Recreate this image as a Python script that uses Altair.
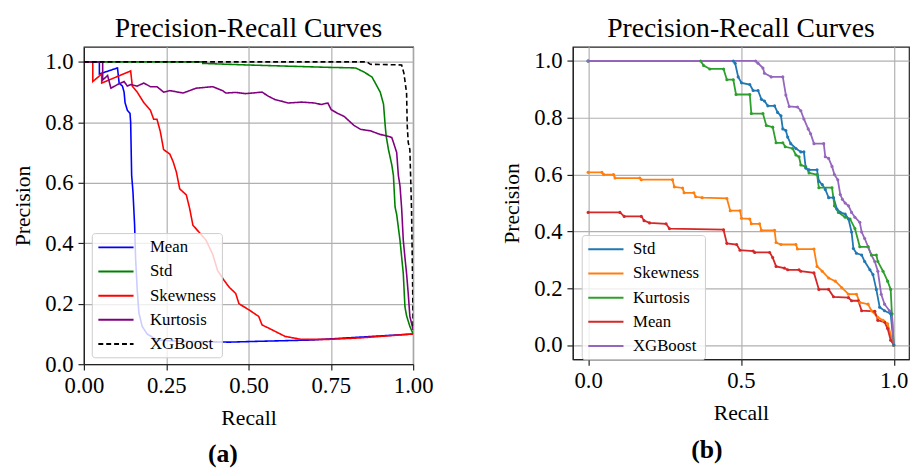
import altair as alt
import pandas as pd

# ---------------- Panel (a) data ----------------
a_mean_recall = [0.0, 0.047, 0.047, 0.102, 0.107, 0.117, 0.122, 0.125, 0.132, 0.140, 0.142, 0.145, 0.149, 0.154, 0.157, 0.162, 0.167, 0.177, 0.192, 0.222, 0.291, 0.441, 0.541, 0.691, 1.0]
a_mean_precision = [1.0, 1.0, 0.96, 0.98, 0.93, 0.92, 0.90, 0.865, 0.84, 0.83, 0.80, 0.625, 0.57, 0.46, 0.35, 0.245, 0.17, 0.125, 0.10, 0.08, 0.076, 0.073, 0.076, 0.08, 0.10]

a_std_recall = [0.0, 0.361, 0.361, 0.491, 0.741, 0.825, 0.850, 0.875, 0.890, 0.900, 0.910, 0.915, 0.918, 0.925, 0.935, 0.940, 0.945, 0.950, 0.960, 0.970, 0.975, 0.980, 0.990, 1.0]
a_std_precision = [1.0, 1.0, 0.995, 0.99, 0.982, 0.98, 0.967, 0.95, 0.92, 0.90, 0.86, 0.79, 0.755, 0.71, 0.66, 0.625, 0.52, 0.495, 0.41, 0.30, 0.19, 0.16, 0.125, 0.10]

a_skew_recall = [0.0, 0.027, 0.027, 0.054, 0.054, 0.142, 0.147, 0.162, 0.182, 0.202, 0.212, 0.222, 0.232, 0.242, 0.261, 0.271, 0.281, 0.291, 0.311, 0.321, 0.331, 0.351, 0.371, 0.391, 0.406, 0.426, 0.441, 0.461, 0.471, 0.501, 0.531, 0.541, 0.571, 0.611, 0.661, 0.741, 0.840, 1.0]
a_skew_precision = [1.0, 1.0, 0.935, 0.96, 0.93, 0.97, 0.92, 0.90, 0.865, 0.84, 0.81, 0.81, 0.77, 0.71, 0.695, 0.67, 0.635, 0.58, 0.56, 0.516, 0.46, 0.435, 0.41, 0.364, 0.31, 0.277, 0.255, 0.234, 0.20, 0.18, 0.158, 0.13, 0.114, 0.092, 0.082, 0.082, 0.087, 0.10]

a_kurt_recall = [0.0, 0.057, 0.057, 0.072, 0.082, 0.102, 0.122, 0.132, 0.142, 0.162, 0.182, 0.202, 0.222, 0.242, 0.261, 0.301, 0.341, 0.391, 0.421, 0.431, 0.461, 0.491, 0.541, 0.561, 0.581, 0.601, 0.621, 0.661, 0.701, 0.721, 0.741, 0.751, 0.770, 0.790, 0.800, 0.820, 0.840, 0.870, 0.900, 0.920, 0.935, 0.940, 0.950, 0.955, 0.960, 0.965, 0.970, 0.975, 0.980, 0.985, 0.990, 0.995, 1.0]
a_kurt_precision = [1.0, 1.0, 0.94, 0.955, 0.913, 0.925, 0.935, 0.92, 0.925, 0.92, 0.93, 0.918, 0.918, 0.90, 0.905, 0.897, 0.913, 0.918, 0.905, 0.897, 0.899, 0.895, 0.90, 0.886, 0.875, 0.87, 0.864, 0.867, 0.864, 0.859, 0.864, 0.842, 0.83, 0.82, 0.81, 0.79, 0.777, 0.772, 0.76, 0.755, 0.75, 0.734, 0.70, 0.625, 0.59, 0.516, 0.41, 0.353, 0.30, 0.234, 0.158, 0.136, 0.114]

a_xgb_recall = [0.0, 0.86, 0.87, 0.965, 0.972, 0.980, 0.982, 0.985, 0.990, 0.995, 0.998, 1.0]
a_xgb_precision = [1.0, 1.0, 0.992, 0.99, 0.962, 0.897, 0.79, 0.734, 0.71, 0.516, 0.30, 0.114]

# ---------------- Panel (b) data ----------------
b_std_recall = [0.0, 0.475, 0.481, 0.491, 0.502, 0.529, 0.540, 0.556, 0.567, 0.577, 0.588, 0.610, 0.620, 0.631, 0.637, 0.647, 0.653, 0.663, 0.680, 0.696, 0.706, 0.712, 0.723, 0.749, 0.755, 0.766, 0.776, 0.787, 0.803, 0.814, 0.825, 0.841, 0.852, 0.862, 0.868, 0.878, 0.895, 0.905, 0.922, 0.932, 0.943, 0.954, 0.970, 0.990, 1.0]
b_std_precision = [1.0, 1.0, 0.992, 0.944, 0.923, 0.917, 0.896, 0.896, 0.865, 0.859, 0.842, 0.842, 0.819, 0.807, 0.761, 0.755, 0.732, 0.709, 0.692, 0.68, 0.68, 0.623, 0.617, 0.617, 0.577, 0.565, 0.548, 0.519, 0.519, 0.479, 0.467, 0.461, 0.444, 0.398, 0.34, 0.323, 0.317, 0.294, 0.265, 0.248, 0.196, 0.133, 0.121, 0.11, 0.0]

b_skew_recall = [0.0, 0.045, 0.051, 0.083, 0.088, 0.169, 0.174, 0.276, 0.282, 0.309, 0.314, 0.346, 0.352, 0.373, 0.454, 0.465, 0.497, 0.502, 0.529, 0.534, 0.561, 0.567, 0.610, 0.615, 0.631, 0.680, 0.685, 0.739, 0.749, 0.766, 0.787, 0.809, 0.830, 0.852, 0.878, 0.889, 0.916, 0.927, 0.948, 0.965, 0.980, 1.0]
b_skew_precision = [0.608, 0.608, 0.60, 0.60, 0.588, 0.588, 0.582, 0.582, 0.557, 0.553, 0.536, 0.536, 0.522, 0.519, 0.516, 0.473, 0.473, 0.446, 0.444, 0.427, 0.427, 0.404, 0.404, 0.361, 0.354, 0.354, 0.338, 0.338, 0.277, 0.26, 0.236, 0.225, 0.202, 0.179, 0.179, 0.15, 0.144, 0.121, 0.098, 0.087, 0.075, 0.0]

b_kurt_recall = [0.0, 0.368, 0.378, 0.398, 0.443, 0.454, 0.475, 0.484, 0.529, 0.534, 0.572, 0.583, 0.604, 0.615, 0.637, 0.645, 0.669, 0.680, 0.690, 0.696, 0.712, 0.723, 0.749, 0.755, 0.798, 0.806, 0.819, 0.841, 0.857, 0.873, 0.889, 0.916, 0.927, 0.943, 0.948, 0.965, 0.980, 0.990, 0.994, 1.0]
b_kurt_precision = [1.0, 1.0, 0.984, 0.972, 0.972, 0.934, 0.934, 0.882, 0.882, 0.815, 0.815, 0.773, 0.767, 0.712, 0.712, 0.698, 0.692, 0.669, 0.663, 0.634, 0.628, 0.606, 0.60, 0.554, 0.554, 0.49, 0.467, 0.45, 0.444, 0.41, 0.346, 0.346, 0.317, 0.317, 0.294, 0.26, 0.225, 0.196, 0.11, 0.0]

b_mean_recall = [0.0, 0.104, 0.118, 0.174, 0.183, 0.201, 0.255, 0.266, 0.443, 0.454, 0.486, 0.497, 0.540, 0.545, 0.594, 0.604, 0.615, 0.642, 0.653, 0.690, 0.696, 0.739, 0.755, 0.787, 0.803, 0.852, 0.862, 0.884, 0.895, 0.938, 0.948, 0.970, 0.980, 0.990, 1.0]
b_mean_precision = [0.467, 0.467, 0.453, 0.453, 0.438, 0.43, 0.427, 0.41, 0.406, 0.358, 0.354, 0.334, 0.331, 0.326, 0.326, 0.308, 0.277, 0.271, 0.265, 0.265, 0.26, 0.254, 0.196, 0.196, 0.17, 0.167, 0.156, 0.156, 0.121, 0.119, 0.087, 0.081, 0.058, 0.017, 0.0]

b_xgb_recall = [0.0, 0.548, 0.556, 0.572, 0.577, 0.599, 0.637, 0.647, 0.658, 0.685, 0.696, 0.706, 0.720, 0.728, 0.739, 0.771, 0.776, 0.787, 0.798, 0.806, 0.817, 0.825, 0.832, 0.841, 0.852, 0.862, 0.873, 0.889, 0.895, 0.905, 0.916, 0.927, 0.938, 0.948, 0.959, 0.970, 0.986, 0.994, 1.0]
b_xgb_precision = [1.0, 1.0, 0.992, 0.975, 0.957, 0.944, 0.944, 0.88, 0.84, 0.838, 0.825, 0.796, 0.761, 0.744, 0.709, 0.709, 0.663, 0.657, 0.629, 0.60, 0.582, 0.53, 0.513, 0.50, 0.49, 0.467, 0.45, 0.432, 0.398, 0.375, 0.346, 0.317, 0.294, 0.26, 0.179, 0.144, 0.121, 0.11, 0.0]

a_names = ["Mean", "Std", "Skewness", "Kurtosis", "XGBoost"]
a_colors = ["#0000ff", "#008000", "#ff0000", "#800080", "#000000"]
a_dashes = [[1, 0], [1, 0], [1, 0], [1, 0], [5, 3]]
b_names = ["Std", "Skewness", "Kurtosis", "Mean", "XGBoost"]
b_colors = ["#1f77b4", "#ff7f0e", "#2ca02c", "#d62728", "#9467bd"]

SERIF = "Liberation Serif"


def build(names, series):
    rows = []
    for name, (rs, ps) in zip(names, series):
        for i, (r, p) in enumerate(zip(rs, ps)):
            rows.append({"model": name, "recall": r, "precision": p, "i": i})
    return pd.DataFrame(rows)


df_a = build(a_names, [(a_mean_recall, a_mean_precision), (a_std_recall, a_std_precision),
                       (a_skew_recall, a_skew_precision), (a_kurt_recall, a_kurt_precision),
                       (a_xgb_recall, a_xgb_precision)])
df_b = build(b_names, [(b_std_recall, b_std_precision), (b_skew_recall, b_skew_precision),
                       (b_kurt_recall, b_kurt_precision), (b_mean_recall, b_mean_precision),
                       (b_xgb_recall, b_xgb_precision)])

legend_common = dict(
    title=None, orient="none", symbolType="M-2.1,0H2.1", symbolSize=289, symbolStrokeWidth=2,
    symbolOffset=10, labelFont=SERIF, labelFontSize=17, labelColor="black",
    fillColor="rgba(255,255,255,0.8)", strokeColor="#cccccc", cornerRadius=3,
    padding=5, rowPadding=6.5,
)

title_params = dict(text="Precision-Recall Curves", font=SERIF, fontSize=28, fontWeight="normal",
                    color="black", frame="group", anchor="middle", offset=4)

# ---------- Panel (a) ----------
xa = alt.X("recall:Q", scale=alt.Scale(domain=[0, 1], nice=False, zero=False),
           axis=alt.Axis(title="Recall", values=[0, 0.25, 0.5, 0.75, 1.0], format=".2f"))
ya = alt.Y("precision:Q", scale=alt.Scale(domain=[0, 1.05], nice=False),
           axis=alt.Axis(title="Precision", values=[0, 0.2, 0.4, 0.6, 0.8, 1.0], format=".1f"))

lines_a = alt.Chart(df_a).mark_line(strokeWidth=1.6, clip=True).encode(
    x=xa, y=ya,
    color=alt.Color("model:N", scale=alt.Scale(domain=a_names, range=a_colors),
                    legend=alt.Legend(legendX=8, legendY=189, labelOffset=25, **legend_common)),
    strokeDash=alt.StrokeDash("model:N", scale=alt.Scale(domain=a_names, range=a_dashes),
                              legend=alt.Legend(legendX=8, legendY=189, labelOffset=25, **legend_common)),
    order="i:Q",
)
cap_a = alt.Chart(pd.DataFrame({"t": ["(a)"]})).mark_text(
    font=SERIF, fontSize=26, fontWeight="bold", color="black", baseline="middle", align="center"
).encode(text="t:N", x=alt.value(141), y=alt.value(413))

panel_a = alt.layer(lines_a, cap_a).properties(width=334, height=322, title=alt.TitleParams(**title_params))

# ---------- Panel (b) ----------
xb = alt.X("recall:Q", scale=alt.Scale(domain=[-0.05, 1.05], nice=False, zero=False),
           axis=alt.Axis(title="Recall", values=[0, 0.5, 1.0], format=".1f"))
yb = alt.Y("precision:Q", scale=alt.Scale(domain=[-0.05, 1.05], nice=False),
           axis=alt.Axis(title="Precision", values=[0, 0.2, 0.4, 0.6, 0.8, 1.0], format=".1f"))

lines_b = alt.Chart(df_b).mark_line(strokeWidth=1.8, point=alt.OverlayMarkDef(size=10, filled=True)).encode(
    x=xb, y=yb,
    color=alt.Color("model:N", scale=alt.Scale(domain=b_names, range=b_colors),
                    legend=alt.Legend(legendX=9, legendY=191, labelOffset=18, **legend_common)),
    order="i:Q",
)
cap_b = alt.Chart(pd.DataFrame({"t": ["(b)"]})).mark_text(
    font=SERIF, fontSize=26, fontWeight="bold", color="black", baseline="middle", align="center"
).encode(text="t:N", x=alt.value(136), y=alt.value(409))

panel_b = alt.layer(lines_b, cap_b).properties(width=341, height=317, title=alt.TitleParams(**title_params))

chart = alt.hconcat(panel_a, panel_b, spacing=67, padding={"left": 3, "top": 3, "right": 0, "bottom": 0}).resolve_scale(
    color="independent", strokeDash="independent"
).configure_view(stroke="#222222", strokeWidth=1.2).configure_axis(
    grid=True, gridColor="#b0b0b0", gridWidth=1.2,
    domainColor="#222222", domainWidth=1.2, tickColor="#222222", tickSize=6, tickWidth=1.2,
    labelFont=SERIF, labelFontSize=23, labelColor="black", labelPadding=5,
    titleFont=SERIF, titleFontSize=22, titleFontWeight="normal", titleColor="black", titlePadding=10,
    labelFlush=False, labelOverlap=False,
)

chart.save("out.html", embed_options={"renderer": "svg", "actions": False})
